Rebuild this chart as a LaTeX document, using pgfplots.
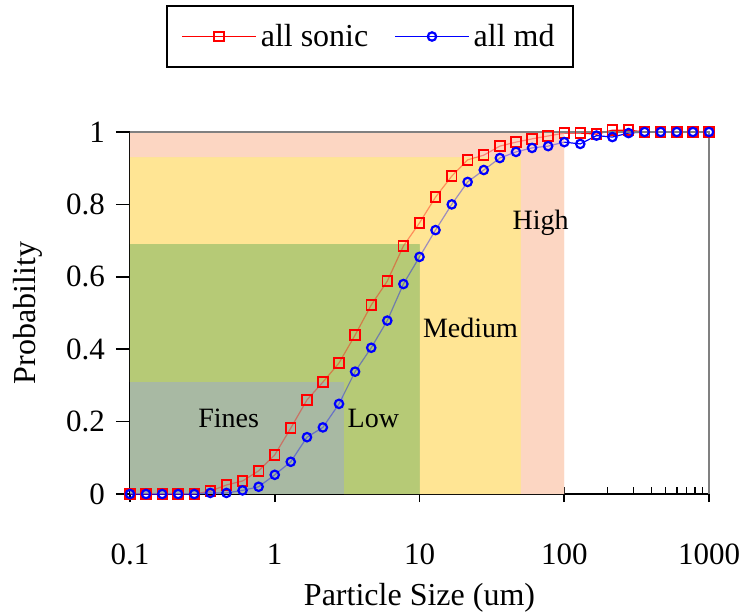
\documentclass[border=0pt]{standalone}
\usepackage{fontspec}
\setmainfont{Liberation Serif}
\usepackage{pgfplots}
\usepackage{pgfplotstable}
\pgfplotsset{compat=1.18}

\definecolor{highfill}{HTML}{FCD6C2}
\definecolor{medfill}{HTML}{FFE594}
\definecolor{lowfill}{HTML}{B6CA76}
\definecolor{finesfill}{HTML}{A8B9A3}

% cumulative probability vs particle size
\pgfplotstableread{
x      sonic  md
0.1    0      0
0.129  0      0
0.167  0      0
0.215  0      0
0.278  0      0
0.359  0.008  0.003
0.464  0.025  0.003
0.599  0.036  0.010
0.774  0.064  0.020
1      0.108  0.053
1.29   0.182  0.089
1.67   0.260  0.157
2.15   0.309  0.184
2.78   0.362  0.249
3.59   0.439  0.338
4.64   0.522  0.404
5.99   0.588  0.479
7.74   0.685  0.580
10     0.749  0.655
12.9   0.820  0.729
16.7   0.878  0.800
21.5   0.923  0.862
27.8   0.936  0.895
35.9   0.961  0.928
46.4   0.972  0.945
59.9   0.981  0.956
77.4   0.989  0.961
100    0.997  0.972
129    0.997  0.967
167    0.994  0.990
215    1.005  0.986
278    1.005  0.997
359    1      1
464    1      1
599    1      1
774    1      1
1000   1      1
}\psd

\begin{document}
\begin{tikzpicture}
\begin{axis}[
    scale only axis,
    width=289.5pt, height=181pt,
    xmode=log,
    xmin=0.1, xmax=1000,
    ymin=0, ymax=1,
    clip=false,
    axis x line*=bottom,
    axis y line*=left,
    axis line style={black, line width=0.9pt},
    xtick={0.1,1,10,100,1000},
    xticklabels={0.1,1,10,100,1000},
    ytick={0,0.2,0.4,0.6,0.8,1},
    yticklabels={0,0.2,0.4,0.6,0.8,1},
    xtick align=inside,
    ytick align=outside,
    major tick length=7pt,
    minor tick length=3.5pt,
    tick style={black, line width=0.8pt},
    minor tick style={black, line width=0.6pt},
    major x tick style={yshift=-4pt},
    tick label style={font=\fontsize{15.5}{17}\selectfont},
    xticklabel style={anchor=center, yshift=-30pt},
    yticklabel style={anchor=east, xshift=-2pt},
    label style={font=\fontsize{16}{18}\selectfont},
    xlabel={Particle Size (um)},
    ylabel={Probability},
    xlabel style={at={(axis description cs:0.5,-0.287)}, anchor=center},
    ylabel style={at={(axis description cs:-0.176,0.5)}, anchor=center},
    legend columns=2,
    legend style={at={(axis description cs:0.4145,1.351)}, anchor=north,
        draw=black, line width=1pt, font=\fontsize{16}{18}\selectfont,
        inner xsep=7pt, inner ysep=7pt,
        /tikz/every even column/.append style={column sep=11pt}},
    legend image code/.code={
        \draw[mark repeat=2, mark phase=2, line width=0.7pt]
            plot coordinates {(0cm,0cm) (0.65cm,0cm) (1.3cm,0cm)};},
]
% shaded size classes
\addplot[draw=none, fill=highfill, forget plot] coordinates {(0.1,0) (0.1,1) (100,1) (100,0)} -- cycle;
\addplot[draw=none, fill=medfill, forget plot] coordinates {(0.1,0) (0.1,0.93) (50,0.93) (50,0)} -- cycle;
\addplot[draw=none, fill=lowfill, forget plot] coordinates {(0.1,0) (0.1,0.69) (10,0.69) (10,0)} -- cycle;
\addplot[draw=none, fill=finesfill, forget plot] coordinates {(0.1,0) (0.1,0.31) (3,0.31) (3,0)} -- cycle;

\addplot[red, line width=0.6pt, mark=square, mark size=2.4pt,
    mark options={line width=0.9pt}] table[x=x, y=sonic] {\psd};
\addlegendentry{all sonic}
\addplot[blue, line width=0.6pt, mark=o, mark size=2.1pt,
    mark options={line width=1.1pt}] table[x=x, y=md] {\psd};
\addlegendentry{all md}

% the fill pattern lies over the curves: tint them again
\addplot[draw=none, fill=highfill, fill opacity=0.62, forget plot] coordinates {(0.1,0.93) (0.1,1) (100,1) (100,0) (50,0) (50,0.93)} -- cycle;
\addplot[draw=none, fill=medfill, fill opacity=0.62, forget plot] coordinates {(0.1,0.69) (0.1,0.93) (50,0.93) (50,0) (10,0) (10,0.69)} -- cycle;
\addplot[draw=none, fill=lowfill, fill opacity=0.62, forget plot] coordinates {(0.1,0.31) (0.1,0.69) (10,0.69) (10,0) (3,0) (3,0.31)} -- cycle;
\addplot[draw=none, fill=finesfill, fill opacity=0.62, forget plot] coordinates {(0.1,0) (0.1,0.31) (3,0.31) (3,0)} -- cycle;

\draw[gray, line width=0.8pt] (rel axis cs:0,1) -- (rel axis cs:1,1) -- (rel axis cs:1,0);

\node[font=\fontsize{14}{16}\selectfont] at (axis cs:0.48,0.21) {Fines};
\node[font=\fontsize{14}{16}\selectfont] at (axis cs:4.8,0.21) {Low};
\node[font=\fontsize{14}{16}\selectfont] at (axis cs:22.5,0.459) {Medium};
\node[font=\fontsize{14}{16}\selectfont] at (axis cs:68.7,0.749) {High};

\coordinate (bbsw) at (rel axis cs:-0.2245,-0.3232);
\coordinate (bbne) at (rel axis cs:1.0604,1.3646);
\end{axis}
\pgfresetboundingbox
\path (bbsw) rectangle (bbne);
\end{tikzpicture}
\end{document}
